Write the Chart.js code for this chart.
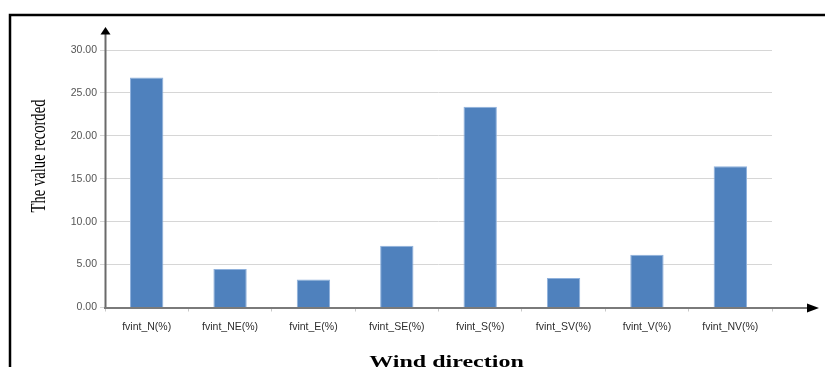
<!DOCTYPE html>
<html>
<head>
<meta charset="utf-8">
<script src="https://cdn.jsdelivr.net/npm/chart.js@4"></script>
<style>
  html, body { margin: 0; padding: 0; background: #ffffff; }
  #wrap { width: 825px; height: 367px; position: relative; }
</style>
</head>
<body>
<div id="wrap"><canvas id="chart" width="825" height="367"></canvas></div>
<script>
// Wind direction frequencies (%)
const categories = ['fvint_N(%)', 'fvint_NE(%)', 'fvint_E(%)', 'fvint_SE(%)', 'fvint_S(%)', 'fvint_SV(%)', 'fvint_V(%)', 'fvint_NV(%)'];
const values = [26.8, 4.5, 3.25, 7.2, 23.4, 3.45, 6.15, 16.45];
const yTicks = [0, 5, 10, 15, 20, 25, 30];
const yTitle = 'The value recorded';
const xTitle = 'Wind direction';

// Frame, axis arrows and the two squeezed serif axis titles
const decorations = {
  id: 'decorations',
  beforeDraw(chart) {
    const ctx = chart.ctx;
    ctx.save();
    ctx.fillStyle = '#ffffff';
    ctx.fillRect(0, 0, chart.width, chart.height);
    ctx.strokeStyle = '#000000';
    ctx.lineWidth = 2.5;
    ctx.beginPath();
    ctx.moveTo(10, chart.height + 2);
    ctx.lineTo(10, 15);
    ctx.lineTo(chart.width + 2, 15);
    ctx.stroke();
    ctx.restore();
  },
  afterDraw(chart) {
    const ctx = chart.ctx;
    const a = chart.chartArea;
    const x0 = chart.scales.x.left;
    const y0 = chart.scales.y.getPixelForValue(0);
    ctx.save();
    // vertical axis with arrow
    ctx.strokeStyle = '#6a6a6a';
    ctx.fillStyle = '#000000';
    ctx.lineWidth = 2;
    ctx.beginPath();
    ctx.moveTo(x0 + 0.5, y0 + 1);
    ctx.lineTo(x0 + 0.5, a.top - 16);
    ctx.stroke();
    ctx.beginPath();
    ctx.moveTo(x0 + 0.5, a.top - 23);
    ctx.lineTo(x0 + 5.5, a.top - 15.5);
    ctx.lineTo(x0 - 4.5, a.top - 15.5);
    ctx.closePath();
    ctx.fill();
    // horizontal axis with arrow
    ctx.strokeStyle = '#7a7a7a';
    ctx.lineWidth = 2;
    ctx.beginPath();
    ctx.moveTo(x0 - 1, y0 + 0.5);
    ctx.lineTo(a.right + 36, y0 + 0.5);
    ctx.stroke();
    ctx.beginPath();
    ctx.moveTo(a.right + 47, y0 + 0.5);
    ctx.lineTo(a.right + 35, y0 - 4);
    ctx.lineTo(a.right + 35, y0 + 5);
    ctx.closePath();
    ctx.fill();

    // y title, rotated and compressed along its reading direction
    ctx.fillStyle = '#000000';
    ctx.textAlign = 'center';
    ctx.textBaseline = 'alphabetic';
    ctx.save();
    ctx.translate(45, 156);
    ctx.rotate(-Math.PI / 2);
    ctx.scale(0.665, 1);
    ctx.font = '22px "Liberation Serif", "Times New Roman", serif';
    ctx.fillText(yTitle, 0, 0);
    ctx.restore();

    // x title, bold and vertically squeezed
    ctx.save();
    ctx.translate((a.left + a.right) / 2 + 8, 367);
    ctx.scale(1, 0.68);
    ctx.font = 'bold 24px "Liberation Serif", "Times New Roman", serif';
    ctx.fillText(xTitle, 0, 0);
    ctx.restore();
    ctx.restore();
  }
};

new Chart(document.getElementById('chart'), {
  type: 'bar',
  data: {
    labels: categories,
    datasets: [{
      data: values,
      backgroundColor: '#4f81bd',
      borderColor: '#8fb1dc',
      borderWidth: 1,
      barPercentage: 0.4,
      categoryPercentage: 1.0
    }]
  },
  options: {
    responsive: false,
    animation: false,
    events: [],
    layout: { padding: { left: 0, right: 53, top: 50, bottom: 0 } },
    plugins: { legend: { display: false }, tooltip: { enabled: false }, title: { display: false } },
    scales: {
      x: {
        grid: { drawOnChartArea: false, drawTicks: true, tickLength: 4, color: '#c8c8c8', offset: true },
        border: { display: false },
        ticks: {
          color: '#2e2e2e',
          padding: 9,
          maxRotation: 0,
          font: { family: '"Liberation Sans", Arial, sans-serif', size: 10.5 }
        },
        afterFit(scale) { scale.height = 59.5; }
      },
      y: {
        min: 0,
        max: 30,
        afterBuildTicks(scale) { scale.ticks = yTicks.map(v => ({ value: v })); },
        grid: { color: '#d6d6d6', lineWidth: 1, tickLength: 5, drawTicks: true },
        border: { display: false },
        ticks: {
          color: '#555555',
          padding: 3,
          font: { family: '"Liberation Sans", Arial, sans-serif', size: 10.5 },
          callback: v => Number(v).toFixed(2)
        },
        afterFit(scale) { scale.width = 105; }
      }
    }
  },
  plugins: [decorations]
});
</script>
</body>
</html>
